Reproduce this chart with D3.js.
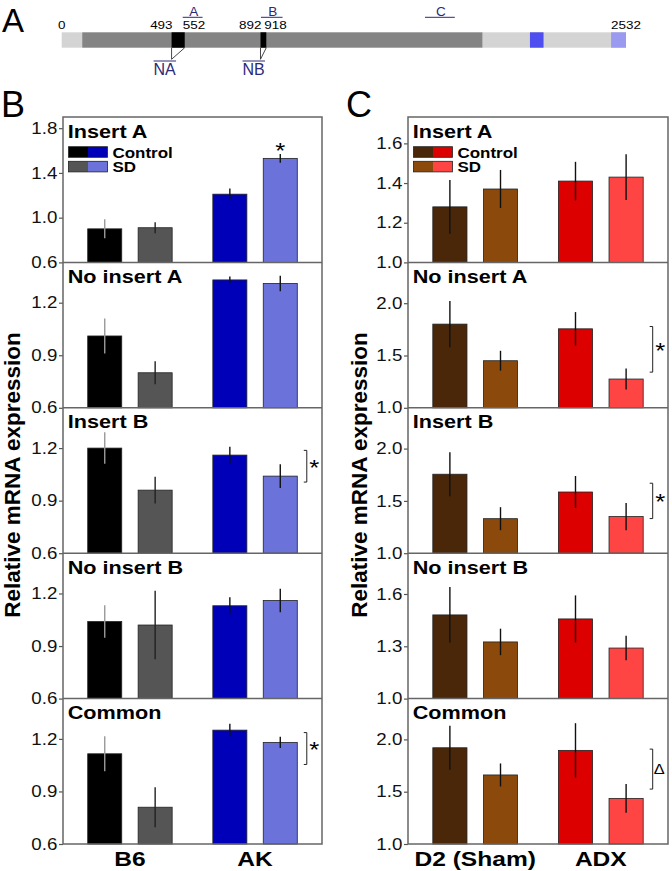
<!DOCTYPE html>
<html>
<head>
<meta charset="utf-8">
<script src="https://cdn.jsdelivr.net/npm/d3@7"></script>
<style>
  body { margin: 0; background: #fff; }
  text { font-family: "Liberation Sans", Arial, sans-serif; }
</style>
</head>
<body>
<svg id="chart" width="672" height="871"></svg>
<script>
// ---- data ----
const subpanels = ["Insert A", "No insert A", "Insert B", "No insert B", "Common"];
const conditions = ["Control", "SD"];
const groupsB = ["B6", "AK"];
const groupsC = ["D2 (Sham)", "ADX"];

// one row per subpanel: [grp1 Control, grp1 SD, grp2 Control, grp2 SD]
const meansB = [
  [0.90, 0.91, 1.21, 1.53],
  [1.01, 0.80, 1.33, 1.31],
  [1.20, 0.96, 1.16, 1.04],
  [1.04, 1.02, 1.13, 1.16],
  [1.115, 0.81, 1.25, 1.18]
];
const errB = [
  [0.085, 0.05, 0.05, 0.04],
  [0.10, 0.066, 0.02, 0.044],
  [0.09, 0.076, 0.048, 0.068],
  [0.093, 0.195, 0.048, 0.067],
  [0.10, 0.114, 0.036, 0.032]
];
const meansC = [
  [1.28, 1.37, 1.41, 1.43],
  [1.80, 1.45, 1.755, 1.275],
  [1.755, 1.33, 1.585, 1.35],
  [1.48, 1.325, 1.457, 1.29],
  [1.92, 1.66, 1.895, 1.436]
];
const errC = [
  [0.135, 0.096, 0.097, 0.115],
  [0.22, 0.095, 0.16, 0.10],
  [0.21, 0.11, 0.153, 0.13],
  [0.16, 0.076, 0.135, 0.07],
  [0.21, 0.11, 0.26, 0.137]
];

const ticksB = [[0.6, 1.0, 1.4, 1.8], [0.6, 0.9, 1.2], [0.6, 0.9, 1.2], [0.6, 0.9, 1.2], [0.6, 0.9, 1.2]];
const ticksC = [[1.0, 1.2, 1.4, 1.6], [1.0, 1.5, 2.0], [1.0, 1.5, 2.0], [1.0, 1.3, 1.6], [1.0, 1.5, 2.0]];
const domainsB = [[0.6, 1.9], [0.6, 1.43], [0.6, 1.43], [0.6, 1.43], [0.6, 1.43]];
const domainsC = [[1.0, 1.733], [1.0, 2.39], [1.0, 2.39], [1.0, 1.834], [1.0, 2.39]];

const sigB = [
  { panel: 0, kind: "star", bar: 3 },
  { panel: 2, kind: "bracket", hi: 1.187, lo: 1.006, label: "*" },
  { panel: 4, kind: "bracket", hi: 1.236, lo: 1.054, label: "*" }
];
const sigC = [
  { panel: 1, kind: "bracket", hi: 1.777, lo: 1.341, label: "*" },
  { panel: 2, kind: "bracket", hi: 1.669, lo: 1.331, label: "*" },
  { panel: 4, kind: "bracket", hi: 1.907, lo: 1.525, label: "\u0394" }
];

// gene schematic (nt positions)
const geneLength = 2532;
const geneRegions = [
  { kind: "utr", start: 0, end: 92 },
  { kind: "cds", start: 92, end: 1889 },
  { kind: "utr", start: 1889, end: 2532 },
  { kind: "exon", start: 2101, end: 2162 },
  { kind: "tail", start: 2465, end: 2532 }
];
const inserts = [{ name: "NA", start: 493, end: 552 }, { name: "NB", start: 892, end: 918 }];
const probes = [{ name: "A", start: 543, end: 632 }, { name: "B", start: 894, end: 991 }, { name: "C", start: 1630, end: 1764 }];

// ---- drawing ----
const svg = d3.select("#chart");
const SX = 1.17;           // source figure is stretched horizontally
const plotTop = 117, subH = 145.4;
const navy = "#2a2a78";

function label(g, x, y, str, size, weight, anchor) {
  return g.append("text")
    .attr("transform", `translate(${x},${y}) scale(${SX},1)`)
    .attr("font-size", size)
    .attr("font-weight", weight || "normal")
    .attr("text-anchor", anchor || "start")
    .attr("fill", "#000")
    .text(str);
}

function drawPanel(cfg) {
  const g = svg.append("g");
  const x0 = d3.scaleBand().domain(cfg.groups).range([cfg.left, cfg.right])
    .paddingInner(0.18).paddingOuter(0.125);
  const x1 = d3.scaleBand().domain(conditions).range([0, x0.bandwidth()])
    .paddingInner(0.325).paddingOuter(0.18);

  subpanels.forEach((name, i) => {
    const top = plotTop + i * subH, bottom = top + subH;
    const y = d3.scaleLinear().domain(cfg.domains[i]).range([bottom, top]);
    const rows = cfg.groups.flatMap((grp, gi) => conditions.map((c, ci) => {
      const k = gi * 2 + ci;
      return { grp, c, k, v: cfg.means[i][k], e: cfg.errs[i][k] };
    }));

    g.append("g").selectAll("rect").data(rows).enter().append("rect")
      .attr("x", d => x0(d.grp) + x1(d.c))
      .attr("y", d => y(d.v))
      .attr("width", x1.bandwidth())
      .attr("height", d => bottom - y(d.v))
      .attr("fill", d => cfg.colors[d.k])
      .attr("stroke", "#222")
      .attr("stroke-width", 0.8);

    g.append("g").selectAll("line").data(rows).enter().append("line")
      .attr("x1", d => x0(d.grp) + x1(d.c) + x1.bandwidth() / 2)
      .attr("x2", d => x0(d.grp) + x1(d.c) + x1.bandwidth() / 2)
      .attr("y1", d => y(d.v - d.e))
      .attr("y2", d => y(d.v + d.e))
      .attr("stroke", d => cfg.errColors[d.k])
      .attr("stroke-width", 1.4);

    g.append("g")
        .attr("transform", `translate(${cfg.left},0)`)
        .attr("font-family", "Liberation Sans, Arial, sans-serif")
        .call(d3.axisLeft(y).tickValues(cfg.ticks[i]).tickFormat(d3.format(".1f")).tickSize(4).tickPadding(0.8))
        .call(a => a.select(".domain").remove())
        .call(a => a.selectAll("line").attr("stroke", "#555").attr("stroke-width", 1.2))
        .call(a => a.selectAll("text").attr("font-size", 16).attr("fill", "#111")
          .attr("transform", `scale(${SX},1)`));

    label(g, cfg.left + 4.7, top + 20.5, name, 18.5, "bold");

    // significance marks
    cfg.sig.filter(s => s.panel === i).forEach(s => {
      if (s.kind === "star") {
        const d = rows[s.bar];
        label(g, x0(d.grp) + x1(d.c) + x1.bandwidth() / 2, y(d.v + d.e) + 4.5, "*", 22, "normal", "middle");
      } else {
        const bx = x0(cfg.groups[1]) + x1("SD") + x1.bandwidth() + 9.5;
        g.append("path")
          .attr("d", `M${bx - 3},${y(s.hi)}H${bx}V${y(s.lo)}H${bx - 3}`)
          .attr("fill", "none").attr("stroke", "#222").attr("stroke-width", 1);
        const mid = (y(s.hi) + y(s.lo)) / 2;
        if (s.label === "*") label(g, bx + 7.5, mid + 8.5, "*", 22, "normal", "middle");
        else label(g, bx + 6.5, mid + 5, s.label, 14, "normal", "middle");
      }
    });
  });

  // legend inside the first subpanel
  const lg = g.append("g");
  conditions.forEach((c, ci) => {
    const ly = plotTop + 29.7 + ci * 14.6;
    [0, 1].forEach(gi => {
      lg.append("rect")
        .attr("x", cfg.left + 5.5 + gi * 19.5).attr("y", ly)
        .attr("width", 19.5).attr("height", 10.6)
        .attr("fill", cfg.colors[gi * 2 + ci]);
    });
    lg.append("rect").attr("x", cfg.left + 5.5).attr("y", ly).attr("width", 39).attr("height", 10.6)
      .attr("fill", "none").attr("stroke", "#222").attr("stroke-width", 0.8);
    label(lg, cfg.left + 49.5, ly + 10.8, c, 14.5, "bold");
  });

  // frame and dividers
  g.append("rect")
    .attr("x", cfg.left).attr("y", plotTop)
    .attr("width", cfg.right - cfg.left).attr("height", subH * subpanels.length)
    .attr("fill", "none").attr("stroke", "#666").attr("stroke-width", 1.5);
  g.append("g").selectAll("line").data(d3.range(1, subpanels.length)).enter().append("line")
    .attr("x1", cfg.left).attr("x2", cfg.right)
    .attr("y1", i => plotTop + i * subH).attr("y2", i => plotTop + i * subH)
    .attr("stroke", "#666").attr("stroke-width", 1.5);

  // group labels
  cfg.groups.forEach(grp => {
    label(g, x0(grp) + x0.bandwidth() / 2, 865.5, grp, 21, "bold", "middle");
  });

  // y title
  g.append("text")
    .attr("transform", `translate(${cfg.titleX},475) rotate(-90)`)
    .attr("text-anchor", "middle")
    .attr("font-size", 22.5).attr("font-weight", "bold")
    .text("Relative mRNA expression");

  // panel letter
  g.append("text").attr("x", cfg.letterX).attr("y", 116.5)
    .attr("font-size", 36).text(cfg.letter);
}

drawPanel({
  letter: "B", letterX: 1, titleX: 20, left: 63, right: 322,
  groups: groupsB, means: meansB, errs: errB, ticks: ticksB, domains: domainsB, sig: sigB,
  colors: ["#000000", "#555555", "#0000b8", "#6b73da"],
  errColors: ["#9a9a9a", "#222222", "#111111", "#111111"]
});
drawPanel({
  letter: "C", letterX: 346, titleX: 367, left: 408, right: 668,
  groups: groupsC, means: meansC, errs: errC, ticks: ticksC, domains: domainsC, sig: sigC,
  colors: ["#4a2708", "#8b4a0c", "#dd0000", "#ff4444"],
  errColors: ["#111111", "#111111", "#111111", "#111111"]
});

// ---- panel A: gene schematic ----
const ga = svg.append("g");
ga.append("text").attr("x", 2).attr("y", 31.7).attr("font-size", 33).text("A");
const gx = d3.scaleLinear().domain([0, geneLength]).range([61.7, 626]);
const barY = 32.3, barH = 15.4;
const regionFill = { utr: "#d4d4d4", cds: "#848484", exon: "#4f4ff0", tail: "#9a9af0" };

ga.selectAll("rect.region").data(geneRegions).enter().append("rect")
  .attr("class", "region")
  .attr("x", d => gx(d.start)).attr("y", barY)
  .attr("width", d => gx(d.end) - gx(d.start)).attr("height", barH)
  .attr("fill", d => regionFill[d.kind]);

ga.selectAll("rect.insert").data(inserts).enter().append("rect")
  .attr("class", "insert")
  .attr("x", d => gx(d.start)).attr("y", barY)
  .attr("width", d => gx(d.end) - gx(d.start)).attr("height", barH)
  .attr("fill", "#000");

inserts.forEach(d => {
  const ax = gx(d.start), ay = 59.3;
  ga.append("path")
    .attr("d", `M${gx(d.start)},${barY + barH}L${ax},${ay}L${gx(d.end)},${barY + barH}`)
    .attr("fill", "none").attr("stroke", "#333").attr("stroke-width", 0.9);
  ga.append("line").attr("x1", ax - 18).attr("x2", ax + 4.5).attr("y1", 61).attr("y2", 61)
    .attr("stroke", navy).attr("stroke-width", 1);
  ga.append("text").attr("x", ax - 7).attr("y", 74.5).attr("text-anchor", "middle")
    .attr("font-size", 16).attr("fill", navy).text(d.name);
  // position labels flanking the insert
  label(ga, gx(d.start) + 1, 29, d.start, 11.5, "normal", "end");
  label(ga, gx(d.end) - 2, 29, d.end, 11.5, "normal", "start");
});
label(ga, gx(0), 29, 0, 11.5, "normal", "middle");
label(ga, gx(geneLength), 29, geneLength, 11.5, "normal", "middle");

probes.forEach(p => {
  ga.append("line").attr("x1", gx(p.start)).attr("x2", gx(p.end)).attr("y1", 17.3).attr("y2", 17.3)
    .attr("stroke", navy).attr("stroke-width", 1);
  ga.append("text").attr("x", (gx(p.start) + gx(p.end)) / 2 + 1).attr("y", 16)
    .attr("text-anchor", "middle").attr("font-size", 13.5).attr("fill", navy).text(p.name);
});
</script>
</body>
</html>
